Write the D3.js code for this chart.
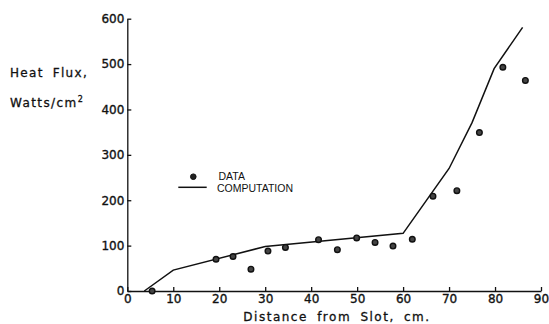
<!DOCTYPE html>
<html>
<head>
<meta charset="utf-8">
<script src="https://cdn.jsdelivr.net/npm/d3@7"></script>
<style>
  body { margin: 0; background: #fff; }
  svg { display: block; }
  .axis text { font-family: "DejaVu Sans", sans-serif; font-size: 12px; fill: #111; stroke: #111; stroke-width: 0.35; }
  .axis path, .axis line { stroke: #111; stroke-width: 1.3; }
  .lbl { font-family: "DejaVu Sans", sans-serif; font-size: 12px; fill: #111; stroke: #111; stroke-width: 0.3; }
</style>
</head>
<body>
<script>
// measured points (distance cm, heat flux W/cm2)
const dataX = [5.4, 19.3, 23, 26.9, 30.6, 34.4, 41.6, 45.7, 49.9, 53.9, 57.8, 62, 66.5, 71.7, 76.6, 81.7, 86.6];
const dataY = [0, 70, 76, 48, 88, 96, 113, 91, 117, 107, 99, 114, 209, 221, 349, 493, 464];

// computation curve
const compX = [3.7, 10, 30, 60, 70, 75, 79.8, 86];
const compY = [0, 46, 98, 127, 270, 371, 490, 581];

const xTicks = [0, 10, 20, 30, 40, 50, 60, 70, 80, 90];
const yTicks = [0, 100, 200, 300, 400, 500, 600];

const W = 549, H = 324;
const svg = d3.select("body").append("svg").attr("width", W).attr("height", H);

const x = d3.scaleLinear().domain([0, 90]).range([127.3, 541]);
const y = d3.scaleLinear().domain([0, 600]).range([291, 18.7]);

//axes
const xAxis = d3.axisBottom(x).tickValues(xTicks).tickSize(-4).tickSizeOuter(0).tickPadding(3);
const yAxis = d3.axisLeft(y).tickValues(yTicks).tickSize(-4).tickSizeOuter(0).tickPadding(3);

svg.append("g").attr("class", "axis").attr("transform", `translate(0,${y(0)})`).call(xAxis);
svg.append("g").attr("class", "axis").attr("transform", `translate(${x(0)},0)`).call(yAxis);

// axis titles
svg.append("text").attr("class", "lbl").attr("x", 337).attr("y", 321).attr("text-anchor", "middle")
  .style("letter-spacing", "1.5px").style("word-spacing", "4px")
  .text("Distance from Slot, cm.");

svg.append("text").attr("class", "lbl").attr("x", 10).attr("y", 77)
  .style("letter-spacing", "1.3px").style("word-spacing", "4px").text("Heat Flux,");
const t2 = svg.append("text").attr("class", "lbl").attr("x", 10).attr("y", 107)
  .style("letter-spacing", "1.4px").text("Watts/cm");
t2.append("tspan").attr("dy", -5).style("font-size", "8px").text("2");

// computation line
const comp = compX.map((d, i) => [d, compY[i]]);
svg.append("path").datum(comp)
  .attr("fill", "none").attr("stroke", "#111").attr("stroke-width", 1.5)
  .attr("d", d3.line().x(d => x(d[0])).y(d => y(d[1])));

// data dots
const pts = dataX.map((d, i) => [d, dataY[i]]);
svg.selectAll("circle.pt").data(pts).enter().append("circle")
  .attr("class", "pt")
  .attr("cx", d => x(d[0])).attr("cy", d => y(d[1])).attr("r", 2.8)
  .attr("fill", "#444").attr("stroke", "#111").attr("stroke-width", 1.4);

// legend
const lg = svg.append("g").style("font-family", "Liberation Sans, Arial, sans-serif").style("font-size", "10.5px").style("fill", "#111");
lg.append("circle").attr("cx", 193.3).attr("cy", 176.7).attr("r", 2.8).attr("fill", "#222").attr("stroke", "#111");
lg.append("line").attr("x1", 178.3).attr("x2", 206.7).attr("y1", 187.3).attr("y2", 187.3).attr("stroke", "#111").attr("stroke-width", 1.5);
lg.append("text").attr("x", 218.5).attr("y", 179.5).text("DATA");
lg.append("text").attr("x", 217).attr("y", 192).text("COMPUTATION");
</script>
</body>
</html>
